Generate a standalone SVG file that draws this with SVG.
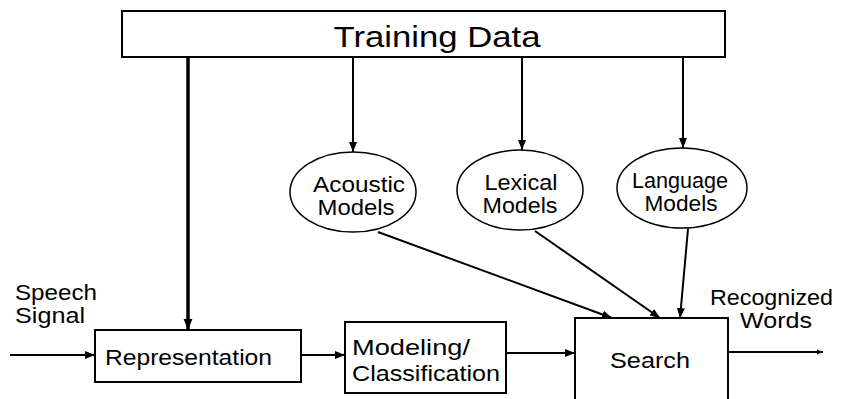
<svg xmlns="http://www.w3.org/2000/svg" width="846" height="399" viewBox="0 0 846 399">
<style>
.box{fill:#fff;stroke:#000;stroke-width:2}
.ell{fill:#fff;stroke:#000;stroke-width:1.5}
.t{font-family:"Liberation Sans",Arial,sans-serif;font-size:22px;fill:#000}
.big{font-size:29px}
.c{stroke:#000;stroke-width:2;fill:none}
.th{stroke-width:3.5}
</style>
<defs>
<marker id="ah" viewBox="0 0 10 10" refX="10" refY="5" markerWidth="5" markerHeight="5" markerUnits="strokeWidth" orient="auto"><path d="M0,1 L10,5 L0,9 z" fill="#000"/></marker>
<marker id="ahs" viewBox="0 0 10 10" refX="10" refY="5" markerWidth="3.2" markerHeight="3.2" markerUnits="strokeWidth" orient="auto"><path d="M0,1 L10,5 L0,9 z" fill="#000"/></marker>
</defs>
<g id="connectors">
<line class="c th" x1="188" y1="57" x2="188" y2="330" marker-end="url(#ahs)"/>
<line class="c" x1="353" y1="57" x2="353" y2="152" marker-end="url(#ah)"/>
<line class="c" x1="522" y1="57" x2="522" y2="150" marker-end="url(#ah)"/>
<line class="c" x1="683" y1="57" x2="683" y2="148" marker-end="url(#ah)"/>
<line class="c" x1="378" y1="232" x2="612" y2="318" marker-end="url(#ah)"/>
<line class="c" x1="535" y1="231" x2="660" y2="318" marker-end="url(#ah)"/>
<line class="c" x1="688" y1="229" x2="680" y2="318" marker-end="url(#ah)"/>
<line class="c" x1="10" y1="355" x2="95" y2="355" marker-end="url(#ah)"/>
<line class="c" x1="301" y1="355" x2="345" y2="355" marker-end="url(#ah)"/>
<line class="c" x1="506" y1="353" x2="575" y2="353" marker-end="url(#ah)"/>
<line class="c" x1="728" y1="352" x2="823" y2="352" stroke-width="3" marker-end="url(#ahs)"/>
</g>
<g id="training">
<rect class="box" x="122" y="11" width="603" height="46"/>
<text class="t big" x="437" y="47" text-anchor="middle" textLength="207" lengthAdjust="spacingAndGlyphs">Training Data</text>
</g>
<g id="acoustic">
<ellipse class="ell" cx="353" cy="192" rx="63" ry="40"/>
<text class="t" x="359" y="192" text-anchor="middle" textLength="92" lengthAdjust="spacingAndGlyphs">Acoustic</text>
<text class="t" x="356" y="215" text-anchor="middle" textLength="77" lengthAdjust="spacingAndGlyphs">Models</text>
</g>
<g id="lexical">
<ellipse class="ell" cx="520" cy="190" rx="63" ry="40"/>
<text class="t" x="521" y="190" text-anchor="middle" textLength="73" lengthAdjust="spacingAndGlyphs">Lexical</text>
<text class="t" x="520" y="213" text-anchor="middle" textLength="75" lengthAdjust="spacingAndGlyphs">Models</text>
</g>
<g id="language">
<ellipse class="ell" cx="682" cy="188" rx="65" ry="40"/>
<text class="t" x="680" y="188" text-anchor="middle" textLength="96" lengthAdjust="spacingAndGlyphs">Language</text>
<text class="t" x="681" y="211" text-anchor="middle" textLength="73" lengthAdjust="spacingAndGlyphs">Models</text>
</g>
<g id="speech">
<text class="t" x="15" y="300" textLength="82" lengthAdjust="spacingAndGlyphs">Speech</text>
<text class="t" x="15" y="323" textLength="70" lengthAdjust="spacingAndGlyphs">Signal</text>
</g>
<g id="representation">
<rect class="box" x="95" y="330" width="206" height="52"/>
<text class="t" x="105" y="365" textLength="167" lengthAdjust="spacingAndGlyphs">Representation</text>
</g>
<g id="modeling">
<rect class="box" x="345" y="322" width="161" height="71"/>
<text class="t" x="352" y="355" textLength="118" lengthAdjust="spacingAndGlyphs">Modeling/</text>
<text class="t" x="352" y="381" textLength="148" lengthAdjust="spacingAndGlyphs">Classification</text>
</g>
<g id="search">
<rect class="box" x="575" y="318" width="153" height="83"/>
<text class="t" x="610" y="368" textLength="80" lengthAdjust="spacingAndGlyphs">Search</text>
</g>
<g id="recognized">
<text class="t" x="710" y="305" textLength="123" lengthAdjust="spacingAndGlyphs">Recognized</text>
<text class="t" x="740" y="328" textLength="72" lengthAdjust="spacingAndGlyphs">Words</text>
</g>
</svg>
